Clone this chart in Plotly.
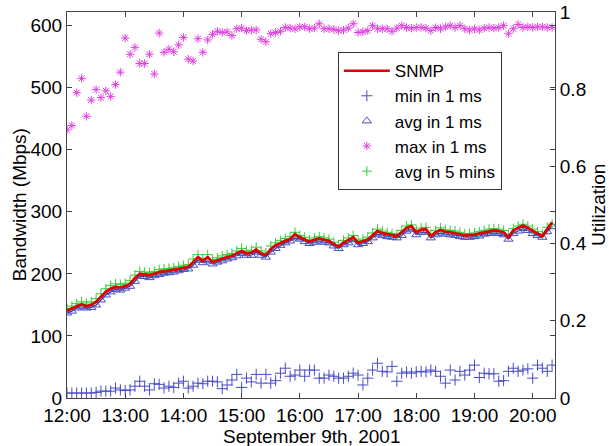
import pandas as pd
import plotly.graph_objects as go

times = pd.date_range("2001-09-09 12:00", periods=101, freq="5min")

snmp = [141,144,148,151,148,150,155,163,171,176,
        179,178,180,184,193,200,199,198,200,203,
        204,205,206,208,210,211,219,227,221,227,
        219,222,225,227,229,233,237,233,234,239,
        233,230,240,246,250,253,256,264,259,256,
        252,255,257,255,253,248,244,250,254,259,
        250,252,255,262,269,266,264,262,261,267,
        274,277,267,271,272,261,267,271,268,267,
        266,264,262,262,263,265,267,269,270,269,
        267,259,270,274,278,274,269,265,261,272,
        283]

avg_1ms = [137,140,145,147,145,146,150,158,166,171,
           175,174,177,180,188,196,196,194,197,199,
           201,202,203,205,207,208,214,222,218,221,
           216,219,221,224,226,229,233,230,230,235,
           230,227,235,241,246,250,253,258,256,252,
           249,251,253,251,250,245,241,247,250,255,
           247,249,252,258,264,262,260,259,258,262,
           269,272,263,267,267,258,263,266,264,263,
           262,260,259,259,260,261,264,265,266,265,
           263,256,265,269,273,270,265,262,259,268,
           276]

avg_5min = [144,148,152,155,153,155,160,168,176,181,
            184,183,185,189,198,204,203,202,204,207,
            208,209,210,212,214,215,224,231,225,231,
            223,226,229,231,233,237,241,237,238,243,
            237,234,245,250,254,257,260,267,262,259,
            255,258,260,258,256,251,247,254,258,262,
            254,256,259,266,272,269,267,265,264,270,
            277,279,271,274,275,264,270,274,271,270,
            269,267,265,265,266,268,270,272,273,272,
            270,263,273,277,280,277,272,268,264,275,
            280]

min_1ms = [8,8,8,8,8,8,9,11,11,11,16,13,12,13,19,27,19,13,23,22,
           16,19,17,24,27,16,19,24,23,27,27,26,15,21,29,38,17,32,26,38,
           24,38,24,28,40,48,35,37,45,
           35,45,45,32,32,37,35,32,32,35,40,37,21,32,45,56,43,42,51,27,
           40,42,40,42,43,42,45,43,35,24,45,29,43,37,45,53,33,40,39,39,
           27,28,43,48,43,45,47,32,53,48,43,53]

max_1ms = [432,439,492,515,454,480,497,484,495,486,505,525,580,554,565,539,539,554,522,588,
           557,562,558,569,581,546,543,579,557,577,586,591,589,590,584,595,596,592,593,593,
           578,574,587,589,591,597,596,595,598,598,595,
           596,603,595,595,594,592,593,596,603,589,590,592,600,595,595,595,591,596,600,597,
           596,597,597,596,592,597,595,598,600,597,600,595,593,595,593,596,597,596,597,600,
           587,595,602,597,598,597,598,598,597,597]

hour_ticks = ["2001-09-09 %02d:00" % h for h in range(12, 21)]
hour_labels = ["%d:00" % h for h in range(12, 21)]
bw_ticks = [0, 100, 200, 300, 400, 500, 600]
util_ticks = [0, 0.2, 0.4, 0.6, 0.8, 1]
util_labels = ["0", "0.2", "0.4", "0.6", "0.8", "1"]

FONT = "Liberation Sans, Arial, sans-serif"
FS = 19

fig = go.Figure()

fig.add_trace(go.Scatter(x=times, y=avg_1ms, mode="lines", line=dict(color="#2a2acc", width=1.2),
                         showlegend=False, hoverinfo="skip"))
fig.add_trace(go.Scatter(x=times, y=snmp, mode="lines", name="SNMP",
                         line=dict(color="#e00000", width=2.6)))
fig.add_trace(go.Scatter(x=times, y=min_1ms, mode="markers", name="min in 1 ms",
                         marker=dict(symbol="cross-thin-open", size=8,
                                     line=dict(color="#4b4bc8", width=1), color="#4b4bc8")))
fig.add_trace(go.Scatter(x=times, y=avg_1ms, mode="markers", name="avg in 1 ms",
                         marker=dict(symbol="triangle-up-open", size=8,
                                     line=dict(color="#4a4ac0", width=1), color="#4a4ac0")))
fig.add_trace(go.Scatter(x=times, y=max_1ms, mode="markers", name="max in 1 ms",
                         marker=dict(symbol="asterisk-open", size=7,
                                     line=dict(color="#e040e0", width=1), color="#e040e0")))
fig.add_trace(go.Scatter(x=times, y=avg_5min, mode="markers", name="avg in 5 mins",
                         marker=dict(symbol="cross-thin-open", size=7,
                                     line=dict(color="#33cc33", width=1), color="#33cc33")))
fig.add_trace(go.Scatter(x=times, y=snmp, mode="lines", showlegend=False, hoverinfo="skip",
                         line=dict(color="#e00000", width=2.6)))
fig.add_trace(go.Scatter(x=[times[0]], y=[0], yaxis="y2", mode="markers",
                         marker=dict(opacity=0), showlegend=False, hoverinfo="skip"))

fig.update_layout(
    width=609, height=446,
    margin=dict(l=67, r=54, t=12, b=48, autoexpand=False),
    paper_bgcolor="white", plot_bgcolor="white",
    font=dict(family=FONT, size=FS, color="black"),
    showlegend=True,
    legend=dict(x=0.555, y=0.896, xanchor="left", yanchor="top",
                bgcolor="white", bordercolor="#333", borderwidth=1,
                font=dict(family=FONT, size=17), tracegroupgap=0,
                itemwidth=46),
    xaxis=dict(
        range=["2001-09-09 12:00", "2001-09-09 20:23"],
        tickmode="array", tickvals=hour_ticks, ticktext=hour_labels,
        ticks="inside", ticklen=5, tickcolor="#444",
        showline=True, linecolor="#444", linewidth=1, mirror="ticks",
        showgrid=False, zeroline=False, automargin=False,
        ticklabeloverflow="allow",
        tickfont=dict(family=FONT, size=FS),
    ),
    yaxis=dict(
        range=[0, 622],
        tickmode="array", tickvals=bw_ticks,
        ticks="inside", ticklen=5, tickcolor="#444",
        showline=True, linecolor="#444", linewidth=1, mirror="ticks",
        showgrid=False, zeroline=False, automargin=False,
        ticklabeloverflow="allow",
        tickfont=dict(family=FONT, size=FS),
    ),
    yaxis2=dict(
        overlaying="y", side="right", range=[0, 1],
        tickmode="array", tickvals=util_ticks, ticktext=util_labels,
        ticks="inside", ticklen=5, tickcolor="#444",
        showline=True, linecolor="#444", linewidth=1,
        showgrid=False, zeroline=False, automargin=False,
        ticklabeloverflow="allow",
        tickfont=dict(family=FONT, size=FS),
    ),
    annotations=[
        dict(text="September 9th, 2001", xref="paper", yref="paper",
             x=0.5, y=-0.1, xanchor="center", yanchor="middle", showarrow=False,
             font=dict(family=FONT, size=FS)),
        dict(text="Bandwidth (Mbps)", xref="paper", yref="paper",
             x=-0.098, y=0.5, xanchor="center", yanchor="middle", textangle=-90,
             showarrow=False, font=dict(family=FONT, size=FS)),
        dict(text="Utilization", xref="paper", yref="paper",
             x=1.088, y=0.5, xanchor="center", yanchor="middle", textangle=-90,
             showarrow=False, font=dict(family=FONT, size=FS)),
    ],
)

fig.write_html(
    "out.html",
    config={"displayModeBar": False},
    post_script="document.body.style.margin='0';document.body.style.overflow='hidden';",
)
